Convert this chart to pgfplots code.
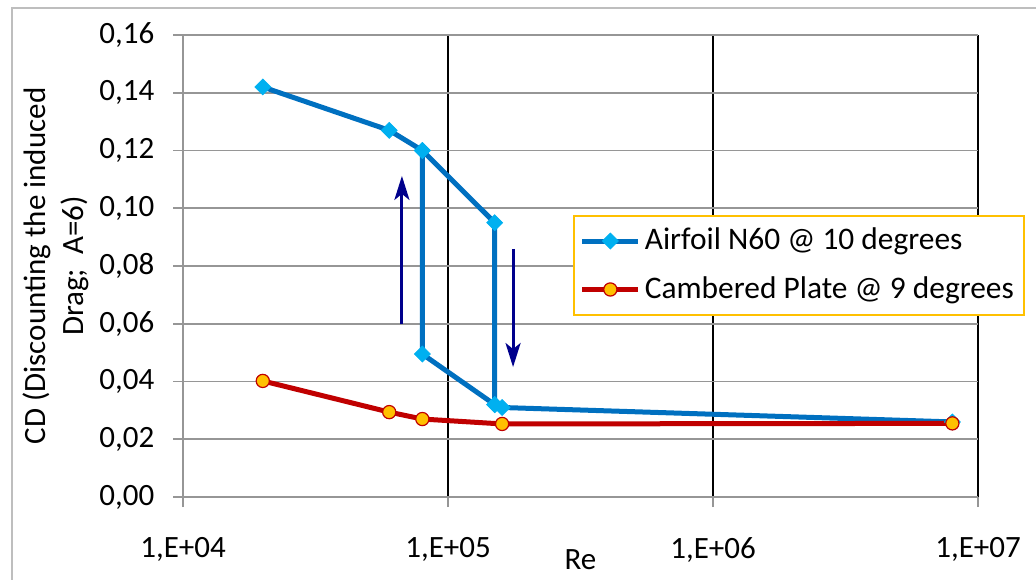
\documentclass[border=0pt]{standalone}
\usepackage{pgfplots}
\pgfplotsset{compat=1.18}
\usepackage{fontspec}
\setmainfont{Carlito}
\usetikzlibrary{arrows.meta}

\definecolor{airline}{RGB}{0,112,192}
\definecolor{airmark}{RGB}{0,176,240}
\definecolor{plateline}{RGB}{192,0,0}
\definecolor{platemark}{RGB}{255,192,0}
\definecolor{arrownavy}{RGB}{0,0,140}
\definecolor{legendframe}{RGB}{255,192,0}
\definecolor{gridgray}{RGB}{150,150,150}
\definecolor{minorgray}{RGB}{195,195,195}
\definecolor{framegray}{RGB}{190,190,190}

\begin{document}
\fontsize{15.5}{19}\selectfont
\begin{tikzpicture}
\useasboundingbox (0,0) rectangle (518pt,289.5pt);
% chart area frame
\draw[framegray, line width=1pt] (6pt,-2pt) -- (6pt,285.5pt) -- (520pt,285.5pt);
\begin{axis}[
  at={(91.5pt,41pt)}, anchor=south west,
  scale only axis, width=397.5pt, height=231pt,
  xmode=log, log basis x=10,
  xmin=1e4, xmax=1e7, ymin=0, ymax=0.16,
  xtick={1e4,1e5,1e6,1e7},
  xticklabels={{1,E+04},{1,E+05},{1,E+06},{1,E+07}},
  ytick={0,0.02,0.04,0.06,0.08,0.10,0.12,0.14,0.16},
  yticklabel style={/pgf/number format/fixed, /pgf/number format/fixed zerofill,
    /pgf/number format/precision=2, /pgf/number format/use comma, xshift=-4pt},
  xticklabel style={yshift=-10pt},
  /pgf/number format/assume math mode=true,
  axis x line*=bottom, axis y line*=left,
  axis line style={-, draw=gridgray, line width=0.8pt},
  tick align=outside, major tick length=5pt, minor tick length=0pt,
  tick style={gridgray, line width=0.8pt},
  xmajorgrids=true, xminorgrids=true, ymajorgrids=true,
  major x grid style={black, line width=0.6pt},
  minor x grid style={minorgray, line width=0.9pt},
  major y grid style={gridgray, line width=0.9pt},
  xlabel={Re},
  ylabel={CD (Discounting the induced\\Drag;~ A=6)},
  every axis x label/.style={at={(axis description cs:0.5,-0.136)}, anchor=center},
  every axis y label/.style={at={(axis description cs:-0.16,0.5)}, rotate=90, anchor=center, align=center},
  legend cell align=left,
  legend style={at={(0.4906,0.6104)}, anchor=north west, draw=legendframe,
    line width=0.8pt, fill=white, inner xsep=3pt, inner ysep=4pt, row sep=7pt,
    font=\fontsize{15.7}{19}\selectfont},
  legend image code/.code={
    \draw[mark repeat=2, mark phase=2, #1] plot coordinates {(0pt,0pt) (14pt,0pt) (28pt,0pt)};
  },
]
% Airfoil N60 at 10 degrees
\addplot[color=airline, line width=2.5pt, mark=square*, mark size=2.8pt,
  mark options={rotate=45, fill=airmark, draw=airmark, line width=0.4pt}]
  coordinates {(2e4,0.142) (6e4,0.127) (8e4,0.120) (1.5e5,0.095) (1.5e5,0.032) (1.6e5,0.031) (8e6,0.026)};
\addlegendentry{Airfoil N60 @ 10 degrees}
% lower branch of the hysteresis loop
\addplot[forget plot, color=airline, line width=2.5pt, mark=square*, mark size=2.8pt,
  mark options={rotate=45, fill=airmark, draw=airmark, line width=0.4pt}]
  coordinates {(8e4,0.120) (8e4,0.0495) (1.5e5,0.032)};
% Cambered plate at 9 degrees
\addplot[color=plateline, line width=2.5pt, mark=*, mark size=3.3pt,
  mark options={fill=platemark, draw=plateline, line width=0.6pt}]
  coordinates {(2e4,0.0402) (6e4,0.0294) (8e4,0.027) (1.6e5,0.0253) (8e6,0.0255)};
\addlegendentry{Cambered Plate @ 9 degrees}
% direction of the Re sweep
\draw[arrownavy, line width=1.5pt, -{Stealth[length=12pt, width=7.5pt, inset=3pt]}]
  (axis cs:6.7e4,0.0599) -- (axis cs:6.7e4,0.1112);
\draw[arrownavy, line width=1.5pt, -{Stealth[length=12pt, width=7.5pt, inset=3pt]}]
  (axis cs:1.76e5,0.0859) -- (axis cs:1.76e5,0.045);
\end{axis}
\end{tikzpicture}
\end{document}
